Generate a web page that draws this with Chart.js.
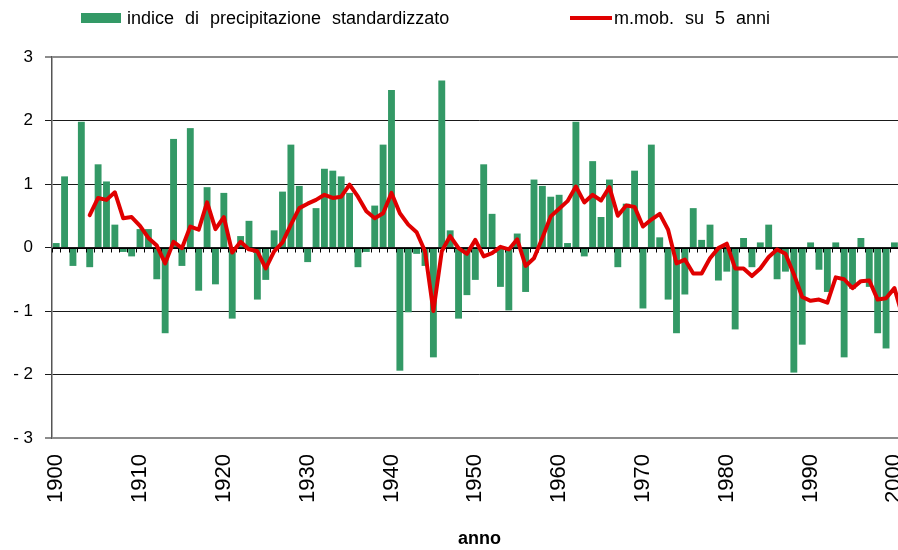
<!DOCTYPE html>
<html>
<head>
<meta charset="utf-8">
<script src="https://cdn.jsdelivr.net/npm/chart.js@4.4.1/dist/chart.umd.min.js"></script>
<style>
  html, body { margin: 0; padding: 0; background: #fff; overflow: hidden; }
  #wrap { position: relative; width: 907px; height: 550px; }
  .leg { position: absolute; font-family: "Liberation Sans", Arial, sans-serif; font-size: 18px; color: #000; word-spacing: 6px; line-height: 20px; }
  .swatch { position: absolute; }
</style>
</head>
<body>
<div id="wrap">
  <div class="swatch" style="left:81px;top:13px;width:40px;height:10px;background:#339966"></div>
  <div class="leg" style="left:127px;top:8px">indice di precipitazione standardizzato</div>
  <div class="swatch" style="left:570px;top:16px;width:42px;height:4px;background:#e00000"></div>
  <div class="leg" style="left:614px;top:8px">m.mob. su 5 anni</div>
  <canvas id="c"></canvas>
</div>
<script>
// years on the category axis
const firstYear = 1900;
const lastYear = 2001;
const years = [];
for (let y = firstYear; y <= lastYear; y++) years.push(y);

// standardised precipitation index, 1900-2001
const indexValues = [
  0.07, 1.12, -0.29, 1.98, -0.31, 1.31, 1.04, 0.36, -0.07, -0.14,
  0.29, 0.29, -0.5, -1.35, 1.71, -0.29, 1.88, -0.68, 0.95, -0.58,
  0.86, -1.12, 0.18, 0.42, -0.82, -0.51, 0.27, 0.88, 1.62, 0.97,
  -0.23, 0.62, 1.24, 1.21, 1.12, 0.86, -0.31, -0.07, 0.66, 1.62,
  2.48, -1.94, -1.02, -0.1, -0.29, -1.73, 2.63, 0.27, -1.12, -0.75,
  -0.51, 1.31, 0.53, -0.62, -0.99, 0.22, -0.7, 1.07, 0.97, 0.8,
  0.83, 0.07, 1.98, -0.14, 1.36, 0.48, 1.07, -0.31, 0.69, 1.21,
  -0.96, 1.62, 0.16, -0.82, -1.35, -0.74, 0.62, 0.12, 0.36, -0.52,
  -0.38, -1.29, 0.15, -0.31, 0.08, 0.36, -0.5, -0.38, -1.97, -1.53,
  0.08, -0.35, -0.7, 0.08, -1.73, -0.65, 0.15, -0.62, -1.35, -1.59,
  0.08, -2.1
];

// 5-year moving average, starts in 1904
const maStartYear = 1904;
const movingAvg = [
  0.51, 0.78, 0.75, 0.87, 0.46, 0.48,
  0.34, 0.15, 0.03, -0.25, 0.09, -0.01, 0.33, 0.28, 0.71, 0.29,
  0.48, -0.08, 0.09, -0.03, -0.06, -0.33, -0.06, 0.08, 0.36, 0.62,
  0.69, 0.75, 0.83, 0.78, 0.8, 0.99, 0.8, 0.57, 0.46, 0.54,
  0.86, 0.54, 0.36, 0.24, -0.06, -1.0, -0.06, 0.18, -0.01, -0.1,
  0.12, -0.14, -0.09, 0.01, -0.03, 0.13, -0.29, -0.17, 0.15, 0.49,
  0.61, 0.73, 0.96, 0.71, 0.83, 0.74, 0.95, 0.5, 0.66, 0.64,
  0.33, 0.44, 0.53, 0.28, -0.25, -0.19, -0.41, -0.41, -0.17, -0.01,
  0.06, -0.33, -0.33, -0.45, -0.33, -0.15, -0.03, -0.1, -0.42, -0.78,
  -0.84, -0.82, -0.87, -0.47, -0.5, -0.64, -0.53, -0.52, -0.82, -0.8,
  -0.64, -1.1
];

const yTicks = [-3, -2, -1, 0, 1, 2, 3];

const maData = years.map(y => y < maStartYear ? null : movingAvg[y - maStartYear]);

// zero axis with small category ticks, drawn over the bars but under the line
const zeroAxis = {
  id: 'zeroAxis',
  afterDatasetDraw(chart, args) {
    if (args.meta.type !== 'bar') return;
    const { ctx, chartArea, scales } = chart;
    const y0 = Math.round(scales.y.getPixelForValue(0)) + 0.5;
    const step = scales.x.getPixelForValue(1) - scales.x.getPixelForValue(0);
    ctx.save();
    ctx.strokeStyle = '#000';
    ctx.lineWidth = 1;
    ctx.beginPath();
    ctx.moveTo(chartArea.left, y0);
    ctx.lineTo(chartArea.right, y0);
    for (let i = 0; i <= years.length; i++) {
      const x = Math.round(chartArea.left + i * step) + 0.5;
      ctx.moveTo(x, y0);
      ctx.lineTo(x, y0 + 4);
    }
    ctx.stroke();
    ctx.restore();
  }
};

new Chart(document.getElementById('c'), {
  data: {
    labels: years,
    datasets: [
      {
        type: 'line',
        label: 'm.mob. su 5 anni',
        data: maData,
        borderColor: '#e00000',
        borderWidth: 4,
        borderJoinStyle: 'round',
        borderCapStyle: 'round',
        pointRadius: 0,
        tension: 0,
        order: 0
      },
      {
        type: 'bar',
        label: 'indice di precipitazione standardizzato',
        data: indexValues,
        backgroundColor: '#339966',
        barPercentage: 0.82,
        categoryPercentage: 1,
        order: 1
      }
    ]
  },
  options: {
    responsive: true,
    maintainAspectRatio: false,
    animation: false,
    layout: { padding: { top: 57, left: 0, right: 0, bottom: 0 } },
    plugins: {
      legend: { display: false },
      tooltip: { enabled: false }
    },
    scales: {
      x: {
        grid: { display: false },
        border: { display: false },
        ticks: {
          autoSkip: false,
          minRotation: 90,
          maxRotation: 90,
          padding: 8,
          color: '#000',
          font: { family: 'Liberation Sans', size: 22 },
          callback: function (val) {
            const y = years[val];
            return y % 10 === 0 ? String(y) : '';
          }
        },
        title: {
          display: true,
          text: 'anno',
          color: '#000',
          padding: { top: 0, bottom: 0 },
          font: { family: 'Liberation Sans', size: 18, weight: 'bold' }
        },
        afterFit(scale) {
          scale.height = 112;
          scale.paddingLeft = 0;
          scale.paddingRight = 0;
        }
      },
      y: {
        min: -3,
        max: 3,
        afterBuildTicks(scale) {
          scale.ticks = yTicks.map(v => ({ value: v }));
        },
        grid: {
          drawTicks: true,
          tickLength: 7,
          color: ctx => {
            const v = ctx.tick.value;
            if (v === 3 || v === -3) return '#8c8c8c';
            return '#1a1a1a';
          },
          lineWidth: ctx => (ctx.tick.value === 3 || ctx.tick.value === -3) ? 2 : 1
        },
        border: { color: '#555', width: 1.5 },
        ticks: {
          padding: 12,
          color: '#000',
          font: { family: 'Liberation Sans', size: 17 },
          callback: v => v < 0 ? '- ' + Math.abs(v) : String(v)
        },
        afterFit(scale) {
          scale.width = 52;
        }
      }
    }
  },
  plugins: [zeroAxis]
});
</script>
</body>
</html>
